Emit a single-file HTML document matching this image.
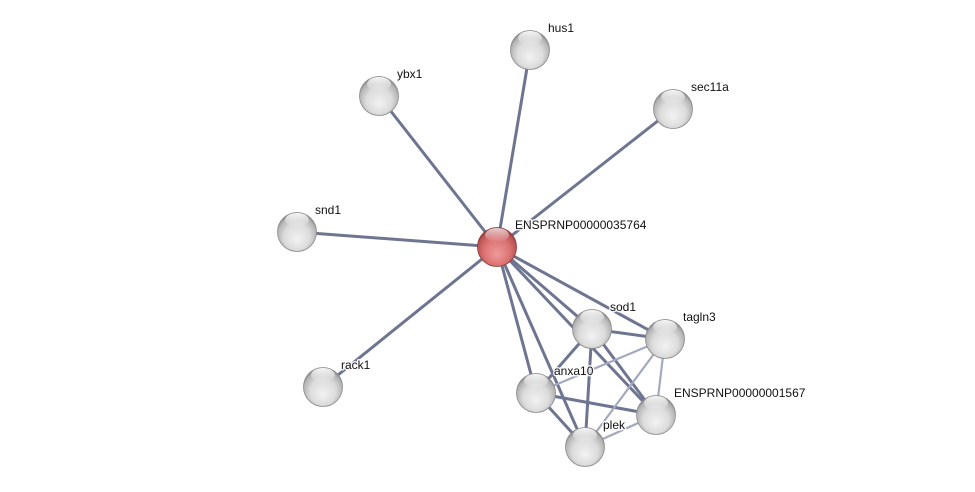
<!DOCTYPE html>
<html><head><meta charset="utf-8"><style>
html,body{margin:0;padding:0;background:#fff;}
svg{display:block;}
text{font-family:"Liberation Sans",sans-serif;font-size:12px;fill:#111;stroke:#fff;stroke-width:3px;stroke-opacity:0.85;paint-order:stroke;stroke-linejoin:round;}
</style></head><body>
<svg width="975" height="492" viewBox="0 0 975 492" xmlns="http://www.w3.org/2000/svg">
<defs>
<radialGradient id="g" cx="50%" cy="58%" r="55%" fx="50%" fy="70%">
<stop offset="0" stop-color="#f2f2f2"/>
<stop offset="0.6" stop-color="#dcdcdc"/>
<stop offset="0.9" stop-color="#b4b4b4"/>
<stop offset="1" stop-color="#8e8e8e"/>
</radialGradient>
<radialGradient id="r" cx="50%" cy="58%" r="55%" fx="50%" fy="70%">
<stop offset="0" stop-color="#ee9a9a"/>
<stop offset="0.6" stop-color="#dc7474"/>
<stop offset="0.9" stop-color="#bd5454"/>
<stop offset="1" stop-color="#973c3c"/>
</radialGradient>
<linearGradient id="h" x1="0" y1="0" x2="0" y2="1">
<stop offset="0" stop-color="#fff" stop-opacity="0.95"/>
<stop offset="1" stop-color="#fff" stop-opacity="0"/>
</linearGradient>
</defs>
<g stroke="#6e7591" stroke-width="3" stroke-linecap="butt">
<line x1="497" y1="247" x2="530" y2="50"/>
<line x1="497" y1="247" x2="379" y2="96"/>
<line x1="497" y1="247" x2="673" y2="109"/>
<line x1="497" y1="247" x2="297" y2="232"/>
<line x1="497" y1="247" x2="323" y2="387"/>
<line x1="497" y1="247" x2="592" y2="329"/>
<line x1="497" y1="247" x2="665" y2="339"/>
<line x1="497" y1="247" x2="536" y2="393"/>
<line x1="497" y1="247" x2="656" y2="415"/>
<line x1="497" y1="247" x2="585" y2="447"/>
<line x1="592" y1="329" x2="665" y2="339"/>
<line x1="592" y1="329" x2="536" y2="393"/>
<line x1="592" y1="329" x2="585" y2="447"/>
<line x1="592" y1="329" x2="656" y2="415"/>
<line x1="536" y1="393" x2="656" y2="415"/>
<line x1="536" y1="393" x2="585" y2="447"/>
</g>
<g stroke="#a3a9c0" stroke-width="2.2">
<line x1="665" y1="339" x2="536" y2="393"/>
<line x1="665" y1="339" x2="585" y2="447"/>
<line x1="665" y1="339" x2="656" y2="415"/>
<line x1="585" y1="447" x2="656" y2="415"/>
</g>
<g stroke="#8a8a8a" stroke-width="0.8">
<circle cx="530" cy="50" r="19.5" fill="url(#g)"/>
<circle cx="379" cy="96" r="19.5" fill="url(#g)"/>
<circle cx="673" cy="109" r="19.5" fill="url(#g)"/>
<circle cx="297" cy="232" r="19.5" fill="url(#g)"/>
<circle cx="323" cy="387" r="19.5" fill="url(#g)"/>
<circle cx="592" cy="329" r="19.5" fill="url(#g)"/>
<circle cx="665" cy="339" r="19.5" fill="url(#g)"/>
<circle cx="536" cy="393" r="19.5" fill="url(#g)"/>
<circle cx="656" cy="415" r="19.5" fill="url(#g)"/>
<circle cx="585" cy="447" r="19.5" fill="url(#g)"/>
<circle cx="497" cy="247" r="19.5" fill="url(#r)" stroke="#8a3a3a"/>
</g>
<g fill="url(#h)">
<ellipse cx="530" cy="38" rx="12" ry="7"/>
<ellipse cx="379" cy="84" rx="12" ry="7"/>
<ellipse cx="673" cy="97" rx="12" ry="7"/>
<ellipse cx="297" cy="220" rx="12" ry="7"/>
<ellipse cx="323" cy="375" rx="12" ry="7"/>
<ellipse cx="592" cy="317" rx="12" ry="7"/>
<ellipse cx="665" cy="327" rx="12" ry="7"/>
<ellipse cx="536" cy="381" rx="12" ry="7"/>
<ellipse cx="656" cy="403" rx="12" ry="7"/>
<ellipse cx="585" cy="435" rx="12" ry="7"/>
<ellipse cx="497" cy="235" rx="12" ry="7" opacity="0.8"/>
</g>
<text x="548" y="32">hus1</text>
<text x="397" y="78">ybx1</text>
<text x="691" y="91">sec11a</text>
<text x="315" y="214">snd1</text>
<text x="341" y="369">rack1</text>
<text x="515" y="229">ENSPRNP00000035764</text>
<text x="610" y="311">sod1</text>
<text x="683" y="321">tagln3</text>
<text x="554" y="375">anxa10</text>
<text x="674" y="397">ENSPRNP00000001567</text>
<text x="603" y="429">plek</text>
</svg>
</body></html>
